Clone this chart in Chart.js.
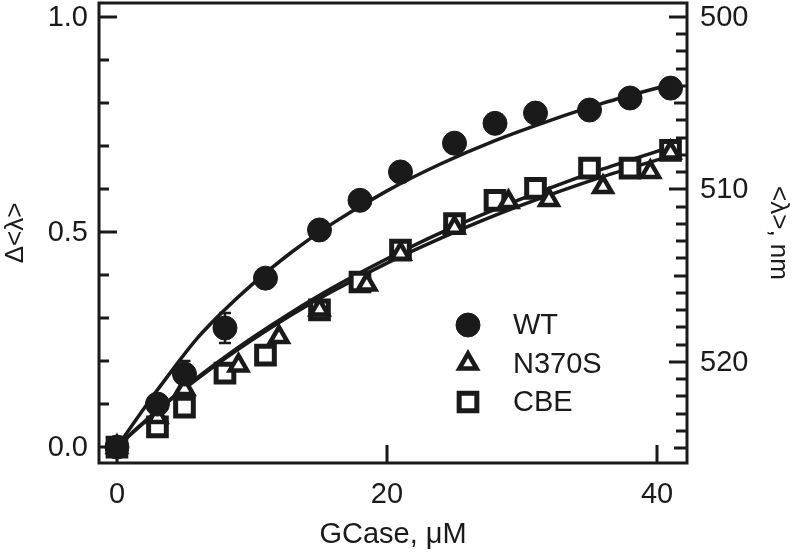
<!DOCTYPE html>
<html lang="en">
<head>
  <meta charset="UTF-8">
  <title>GCase titration</title>
  <script src="https://cdn.jsdelivr.net/npm/chart.js"></script>
  <style>
    html, body { margin: 0; padding: 0; background: #fff; }
    #wrap { width: 800px; height: 556px; }
  </style>
</head>
<body>
  <div id="wrap"><canvas id="chart" width="800" height="556"></canvas></div>

  <script>
    // measured points
    const wtX = [0, 3, 5, 8, 11, 15, 18, 21, 25, 28, 31, 35, 38, 41];
    const wtY = [0, 0.10, 0.17, 0.277, 0.393, 0.505, 0.574, 0.64, 0.707, 0.753, 0.777, 0.784, 0.812, 0.835];
    const wtErr = [0.01, 0.015, 0.03, 0.035, 0.01, 0.01, 0.01, 0.01, 0.01, 0.01, 0.01, 0.01, 0.01, 0.01];

    const nX = [0, 3, 5, 9, 12, 15, 18.5, 21, 25, 29, 32, 36, 39.5, 41];
    const nY = [0, 0.07, 0.135, 0.19, 0.256, 0.32, 0.378, 0.45, 0.51, 0.57, 0.575, 0.605, 0.64, 0.685];

    const cbeX = [0, 3, 5, 8, 11, 15, 18, 21, 25, 28, 31, 35, 38, 41];
    const cbeY = [0, 0.047, 0.093, 0.172, 0.214, 0.319, 0.384, 0.458, 0.52, 0.574, 0.602, 0.649, 0.649, 0.69];

    // fitted curves
    const fitX = [0, 1, 2, 4, 6, 8, 10, 13, 16, 20, 24, 28, 32, 36, 41.5];
    const fitWT = [0, 0.045, 0.09, 0.175, 0.255, 0.32, 0.378, 0.455, 0.521, 0.596, 0.659, 0.713, 0.759, 0.80, 0.848];
    const fitCBE = [0, 0.03, 0.058, 0.112, 0.163, 0.21, 0.254, 0.315, 0.371, 0.438, 0.499, 0.553, 0.602, 0.647, 0.703];
    const fitN = [0, 0.029, 0.057, 0.111, 0.16, 0.206, 0.249, 0.309, 0.363, 0.428, 0.486, 0.539, 0.586, 0.629, 0.682];

    const xTicks = [0, 20, 40];
    const leftTicks = [0, 0.5, 1.0];
    const rightTicks = [500, 510, 520];

    const ink = '#1a1a1a';
    const fontFamily = "'Liberation Sans', Arial, sans-serif";

    const pts = (xs, ys) => xs.map((x, i) => ({ x: x, y: ys[i] }));

    // frame, inward tick marks and tick labels
    const framePlugin = {
      id: 'frame',
      afterDatasetsDraw(chart) {
        const ctx = chart.ctx;
        const a = chart.chartArea;
        const sx = chart.scales.x, sy = chart.scales.y, sy2 = chart.scales.y2;
        ctx.save();
        ctx.strokeStyle = ink;
        ctx.lineWidth = 3;
        ctx.beginPath();
        for (let i = 0; i <= 10; i++) {
          const y = Math.round(sy.getPixelForValue(i / 10));
          const len = (i % 5 === 0) ? 18 : 10;
          ctx.moveTo(a.left, y); ctx.lineTo(a.left + len, y);
        }
        for (let n = 500; n <= 525; n++) {
          const y = Math.round(sy2.getPixelForValue(n));
          const len = (n % 10 === 0) ? 18 : (n % 5 === 0 ? 13 : 11);
          ctx.moveTo(a.right, y); ctx.lineTo(a.right - len, y);
        }
        xTicks.forEach(v => {
          const x = Math.round(sx.getPixelForValue(v));
          ctx.moveTo(x, a.bottom); ctx.lineTo(x, a.bottom - 18);
        });
        ctx.stroke();
        ctx.strokeRect(a.left, a.top, a.right - a.left, a.bottom - a.top);

        ctx.fillStyle = ink;
        ctx.font = '29px ' + fontFamily;
        ctx.textBaseline = 'middle';
        ctx.textAlign = 'right';
        leftTicks.forEach(v => ctx.fillText(v.toFixed(1), a.left - 11, sy.getPixelForValue(v) + 1));
        ctx.textAlign = 'left';
        rightTicks.forEach(v => ctx.fillText(String(v), a.right + 13, sy2.getPixelForValue(v) + 1));
        ctx.textAlign = 'center';
        xTicks.forEach(v => ctx.fillText(String(v), sx.getPixelForValue(v), a.bottom + 32));
        ctx.restore();
      }
    };

    // error bars for WT
    const errPlugin = {
      id: 'errbars',
      beforeDatasetsDraw(chart) {
        const ctx = chart.ctx;
        const sx = chart.scales.x, sy = chart.scales.y;
        ctx.save();
        ctx.strokeStyle = ink;
        ctx.lineWidth = 2.5;
        ctx.beginPath();
        wtX.forEach((x, i) => {
          const px = sx.getPixelForValue(x);
          const lo = sy.getPixelForValue(wtY[i] - wtErr[i]);
          const hi = sy.getPixelForValue(wtY[i] + wtErr[i]);
          ctx.moveTo(px, lo); ctx.lineTo(px, hi);
          ctx.moveTo(px - 6, lo); ctx.lineTo(px + 6, lo);
          ctx.moveTo(px - 6, hi); ctx.lineTo(px + 6, hi);
        });
        ctx.stroke();
        ctx.restore();
      }
    };

    // legend inside the plot
    const legendItems = [
      { label: 'WT', style: 'circle', radius: 12, fill: ink, bw: 1 },
      { label: 'N370S', style: 'triangle', radius: 10, fill: '#fff', bw: 4.5 },
      { label: 'CBE', style: 'rect', radius: 12.5, fill: '#fff', bw: 5 }
    ];
    const legendPlugin = {
      id: 'insideLegend',
      afterDraw(chart) {
        const ctx = chart.ctx;
        ctx.save();
        ctx.font = '29px ' + fontFamily;
        ctx.textBaseline = 'middle';
        ctx.textAlign = 'left';
        legendItems.forEach((it, i) => {
          const y = 325 + i * 38.5;
          ctx.fillStyle = it.fill;
          ctx.strokeStyle = ink;
          ctx.lineWidth = it.bw;
          Chart.helpers.drawPoint(ctx, { pointStyle: it.style, radius: it.radius, rotation: 0, borderWidth: it.bw }, 468, y);
          ctx.fillStyle = ink;
          ctx.fillText(it.label, 513, y + 1);
        });
        ctx.restore();
      }
    };

    const tickFont = { family: fontFamily, size: 29 };
    const titleFont = { family: fontFamily, size: 26 };

    new Chart(document.getElementById('chart'), {
      type: 'scatter',
      data: {
        datasets: [
          {
            label: 'WT', data: pts(wtX, wtY),
            pointStyle: 'circle', pointRadius: 12, pointBorderWidth: 1,
            backgroundColor: ink, borderColor: ink, showLine: false, clip: false
          },
          {
            label: 'N370S', data: pts(nX, nY),
            pointStyle: 'triangle', pointRadius: 10, pointBorderWidth: 4.5,
            backgroundColor: '#fff', borderColor: ink, showLine: false, clip: false
          },
          {
            label: 'CBE', data: pts(cbeX, cbeY),
            pointStyle: 'rect', pointRadius: 12.5, pointBorderWidth: 5,
            backgroundColor: '#fff', borderColor: ink, showLine: false, clip: false
          },
          {
            label: 'fit WT', data: pts(fitX, fitWT), showLine: true, pointRadius: 0,
            borderColor: ink, borderWidth: 3.5, cubicInterpolationMode: 'monotone', fill: false
          },
          {
            label: 'fit CBE', data: pts(fitX, fitCBE), showLine: true, pointRadius: 0,
            borderColor: ink, borderWidth: 3.5, cubicInterpolationMode: 'monotone', fill: false
          },
          {
            label: 'fit N370S', data: pts(fitX, fitN), showLine: true, pointRadius: 0,
            borderColor: ink, borderWidth: 3.5, cubicInterpolationMode: 'monotone', fill: false
          }
        ]
      },
      options: {
        responsive: false,
        animation: false,
        events: [],
        layout: { autoPadding: false, padding: { top: 3, left: 0, right: 0, bottom: 0 } },
        plugins: {
          legend: { display: false },
          tooltip: { enabled: false }
        },
        scales: {
          x: {
            type: 'linear', min: -1.33, max: 42.22,
            grid: { display: false, drawTicks: false },
            border: { display: false },
            afterBuildTicks: s => { s.ticks = xTicks.map(v => ({ value: v })); },
            afterFit: s => { s.height = 93; },
            ticks: { display: false },
            title: { display: true, text: 'GCase, \u03bcM', color: ink, font: tickFont, padding: { top: 4, bottom: 4 } }
          },
          y: {
            type: 'linear', position: 'left', min: -0.037, max: 1.033,
            grid: { display: false, drawTicks: false },
            border: { display: false },
            afterBuildTicks: s => { s.ticks = leftTicks.map(v => ({ value: v })); },
            afterFit: s => { s.width = 99; },
            ticks: { display: false },
            title: { display: true, text: '\u0394<\u03bb>', color: ink, font: titleFont, padding: { top: 0, bottom: 0 } }
          },
          y2: {
            type: 'linear', position: 'right', reverse: true, min: 499.19, max: 525.86,
            grid: { display: false, drawTicks: false },
            border: { display: false },
            afterBuildTicks: s => { s.ticks = rightTicks.map(v => ({ value: v })); },
            afterFit: s => { s.width = 113; },
            ticks: { display: false },
            title: { display: true, text: '<\u03bb>, nm', color: ink, font: titleFont, padding: { top: 6, bottom: 0 } }
          }
        }
      },
      plugins: [errPlugin, framePlugin, legendPlugin]
    });
  </script>
</body>
</html>
